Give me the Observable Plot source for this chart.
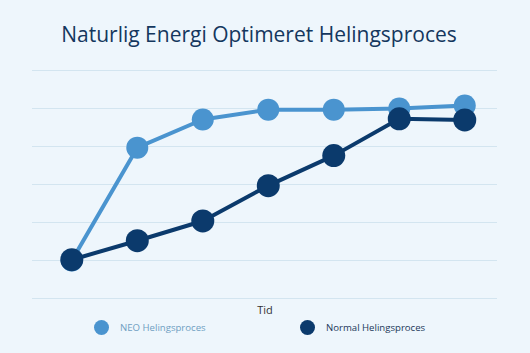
<!DOCTYPE html>
<html>
<head>
<meta charset="utf-8">
<script src="https://cdn.jsdelivr.net/npm/d3@7"></script>
<script src="https://cdn.jsdelivr.net/npm/@observablehq/plot@0.6"></script>
<style>
  html, body { margin: 0; padding: 0; background: #eef6fc; }
  body { width: 530px; height: 353px; position: relative; overflow: hidden; font-family: "Open Sans", sans-serif; }
  #title { position: absolute; left: -6px; top: 20px; width: 530px; text-align: center; font-size: 21px; color: #14375e; font-weight: 400; }
  #chart { position: absolute; left: 0; top: 55px; }
  .leg { position: absolute; top: 320px; display: flex; align-items: center; font-size: 9.6px; }
  .sw { width: 15px; height: 15px; border-radius: 50%; margin-right: 11px; }
</style>
</head>
<body>
<div id="title">Naturlig Energi Optimeret Helingsproces</div>
<div id="chart"></div>
<div class="leg" style="left:94px; color:#6e9fc2;"><div class="sw" style="background:#4a94cf"></div>NEO Helingsproces</div>
<div class="leg" style="left:300px; color:#22385a;"><div class="sw" style="background:#0b3a6c"></div>Normal Helingsproces</div>
<script>
const steps = [0, 1, 2, 3, 4, 5, 6];
const neo = [1.0, 3.97, 4.71, 4.97, 4.97, 5.0, 5.08];
const normal = [1.02, 1.52, 2.04, 2.97, 3.76, 4.73, 4.7];
const gridTicks = [0, 1, 2, 3, 4, 5, 6];
const xLabel = "Tid";

const neoData = steps.map((s, i) => ({s, v: neo[i]}));
const normData = steps.map((s, i) => ({s, v: normal[i]}));

const light = "#4a94cf", dark = "#0b3a6c";

const chart = Plot.plot({
  width: 530,
  height: 260,
  marginLeft: 32,
  marginRight: 33,
  marginTop: 15,
  marginBottom: 17,
  style: {background: "transparent", fontFamily: "Open Sans, sans-serif"},
  x: {domain: [-0.6, 6.5], axis: null},
  y: {domain: [0, 6], axis: null},
  marks: [
    Plot.gridY(gridTicks, {stroke: "#d3e5f0", strokeOpacity: 1, strokeWidth: 1}),
    Plot.line(neoData, {x: "s", y: "v", stroke: light, strokeWidth: 4}),
    Plot.dot(neoData, {x: "s", y: "v", r: 11, fill: light}),
    Plot.line(normData, {x: "s", y: "v", stroke: dark, strokeWidth: 4}),
    Plot.dot(normData, {x: "s", y: "v", r: 11.5, fill: dark}),
    Plot.text([xLabel], {frameAnchor: "bottom", dy: 15, fontSize: 11, fill: "#333", text: d => d})
  ]
});
document.getElementById("chart").appendChild(chart);
</script>
</body>
</html>
